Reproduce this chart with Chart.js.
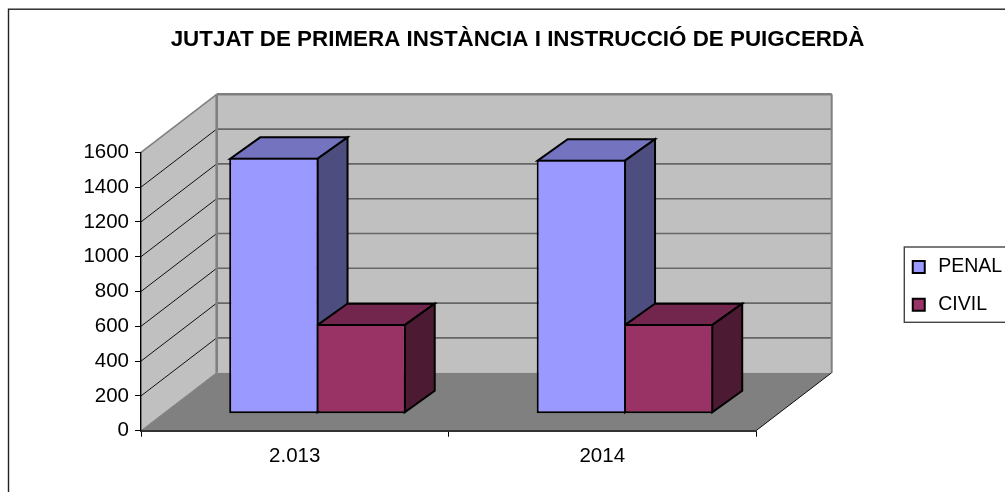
<!DOCTYPE html>
<html><head><meta charset="utf-8">
<style>html,body{margin:0;padding:0;background:#fff}canvas{display:block}</style>
<script src="https://cdn.jsdelivr.net/npm/chart.js@4"></script>
</head><body><canvas id="c" width="1005" height="492"></canvas>
<script>
const categories = ["2.013", "2014"];
const penalValues = [1471, 1460];
const civilValues = [515, 515];
const yTicks = [0,200,400,600,800,1000,1200,1400,1600];
const titleText = "JUTJAT DE PRIMERA INSTÀNCIA I INSTRUCCIÓ DE PUIGCERDÀ";

const FONT = '"Liberation Sans", Arial, sans-serif';
const WALL = {dx:75.7, dy:-58};        // depth of the 3D box
const BAR_SHIFT = {dx:22.7, dy:-17};   // bars stand inside the box
const BAR_DEPTH = {dx:30, dy:-21.4};   // depth of a 3D bar
const BAR_BORDER = 2;

function poly(ctx, pts, fill, stroke, lw){
  ctx.beginPath();
  pts.forEach((p,i)=> i?ctx.lineTo(p[0],p[1]):ctx.moveTo(p[0],p[1]));
  ctx.closePath();
  if(fill){ctx.fillStyle=fill;ctx.fill();}
  if(stroke){ctx.strokeStyle=stroke;ctx.lineWidth=lw;ctx.lineJoin='miter';ctx.stroke();}
}
function line(ctx,x1,y1,x2,y2,c,w){
  ctx.beginPath();ctx.moveTo(x1,y1);ctx.lineTo(x2,y2);ctx.strokeStyle=c;ctx.lineWidth=w;ctx.stroke();
}

const box3d = {
  id:'box3d',
  afterLayout(chart){
    const t = chart.titleBlock; t.left = 30; t.right = 1005;
    const l = chart.legend; l.left = 890.8; l.right = 1005; l.top = 239; l.bottom = 420;
  },
  beforeDraw(chart){
    const ctx = chart.ctx, a = chart.chartArea, y = chart.scales.y;
    const L=a.left,R=a.right,T=y.getPixelForValue(1600),B=y.getPixelForValue(0);
    const dx=WALL.dx,dy=WALL.dy;
    ctx.save();
    ctx.fillStyle='#fff';ctx.fillRect(0,0,chart.width,chart.height);
    // outer frame and legend box (their right/bottom sides fall outside the picture)
    ctx.strokeStyle='#222';ctx.lineWidth=1.4;ctx.strokeRect(8.5,9.2,1020,500);
    ctx.strokeStyle='#444';ctx.lineWidth=1.4;ctx.strokeRect(904.3,247,120,75.3);
    // walls
    poly(ctx,[[L,T],[L+dx,T+dy],[L+dx,B+dy],[L,B]],'#c0c0c0');
    poly(ctx,[[L+dx,T+dy],[R+dx,T+dy],[R+dx,B+dy],[L+dx,B+dy]],'#c0c0c0');
    poly(ctx,[[L,B],[L+dx,B+dy],[R+dx,B+dy],[R,B]],'#808080');
    // gridlines
    yTicks.forEach(v=>{
      if(v===0||v===1600) return;
      const p=y.getPixelForValue(v);
      line(ctx,L,p,L+dx,p+dy,'#111',1);
      line(ctx,L+dx,p+dy,R+dx,p+dy,'#666',1.6);
    });
    // wall edges
    line(ctx,L,T,L+dx,T+dy,'#808080',1.6);
    line(ctx,L+dx,T+dy,R+dx,T+dy,'#808080',2.4);
    line(ctx,L+dx,T+dy,L+dx,B+dy,'#808080',2.6);
    line(ctx,R+dx,T+dy,R+dx,B+dy,'#808080',2);
    line(ctx,L,B,L+dx,B+dy,'#808080',1);
    line(ctx,R,B,R+dx,B+dy,'#111',1);
    ctx.restore();
  },
  beforeDatasetsDraw(chart){
    const ctx = chart.ctx, d=BAR_DEPTH, h=BAR_BORDER/2;
    ctx.save();
    ctx.translate(BAR_SHIFT.dx,BAR_SHIFT.dy);
    categories.forEach((_,i)=>{
      chart.data.datasets.forEach((ds,k)=>{
        const b=chart.getDatasetMeta(k).data[i];
        const l=b.x-b.width/2+h,r=b.x+b.width/2-h,t=b.y+h,bt=b.base-h;
        poly(ctx,[[l,t],[l+d.dx,t+d.dy],[r+d.dx,t+d.dy],[r,t]],ds.topColor,'#000',BAR_BORDER);
        poly(ctx,[[r,t],[r+d.dx,t+d.dy],[r+d.dx,bt+d.dy],[r,bt]],ds.sideColor,'#000',BAR_BORDER);
      });
    });
  },
  afterDatasetsDraw(chart){ chart.ctx.restore(); }
};

new Chart(document.getElementById('c'),{
  type:'bar',
  data:{labels:categories,datasets:[
    {label:'PENAL',data:penalValues,backgroundColor:'#9999ff',borderColor:'#000',borderWidth:BAR_BORDER,borderSkipped:false,topColor:'#7373bf',sideColor:'#4d4d80',clip:false},
    {label:'CIVIL',data:civilValues,backgroundColor:'#993366',borderColor:'#000',borderWidth:BAR_BORDER,borderSkipped:false,topColor:'#73264d',sideColor:'#4d1a33',clip:false}
  ]},
  plugins:[box3d],
  options:{
    responsive:false,animation:false,
    layout:{padding:{left:0,right:249,top:0,bottom:0}},
    datasets:{bar:{barPercentage:1.025,categoryPercentage:0.567}},
    plugins:{
      tooltip:{enabled:false},
      title:{display:true,text:titleText,color:'#000',
        font:{family:FONT,size:22.4,weight:'bold',lineHeight:1.2},
        padding:{top:26,bottom:99.4}},
      legend:{display:true,position:'chartArea',align:'start',
        labels:{color:'#000',font:{family:FONT,size:19.5},usePointStyle:true,pointStyle:'rect',
          boxWidth:20,boxHeight:12,padding:18.2}}
    },
    scales:{
      x:{
        afterFit(s){s.height=61.3;},
        grid:{display:true,offset:true,drawOnChartArea:false,drawTicks:true,tickLength:6,color:'#000',lineWidth:1},
        border:{display:true,color:'#333',width:2},
        ticks:{color:'#000',font:{family:FONT,size:20.5},padding:7,maxRotation:0}
      },
      y:{
        min:0,max:1600,
        afterFit(s){s.width=141;},
        afterBuildTicks(s){s.ticks=yTicks.map(v=>({value:v}));},
        grid:{display:true,drawOnChartArea:false,drawTicks:true,tickLength:6,color:'#000',lineWidth:1},
        border:{display:true,color:'#000',width:1.4},
        ticks:{color:'#000',font:{family:FONT,size:20.5},padding:6,callback:v=>String(v)}
      }
    }
  }
});
</script></body></html>
